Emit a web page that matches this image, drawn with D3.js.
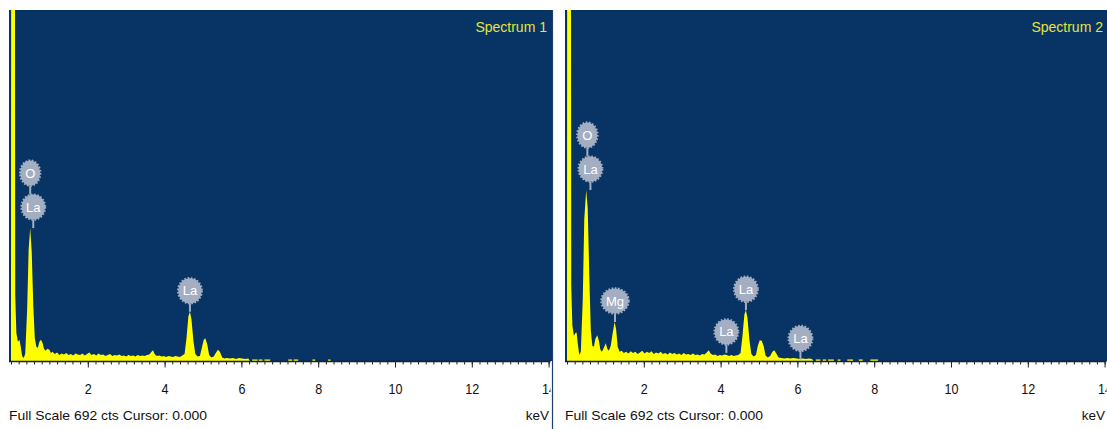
<!DOCTYPE html>
<html>
<head>
<meta charset="utf-8">
<script src="https://cdn.jsdelivr.net/npm/d3@7"></script>
<style>
  html, body { margin: 0; padding: 0; background: #ffffff; }
  svg { display: block; font-family: "Liberation Sans", Arial, sans-serif; }
</style>
</head>
<body>
<svg id="chart" width="1107" height="429"></svg>
<script>
// EDS spectra: [energy keV, counts]
const spectrum1 = [
  [0.00,0],[0.01,2000],[0.09,2000],[0.11,130],[0.14,55],[0.18,38],[0.22,42],[0.25,30],[0.29,10],[0.33,6],
  [0.37,14],[0.42,100],[0.46,220],[0.50,262],[0.54,215],[0.58,110],[0.62,45],[0.66,28],[0.70,26],[0.74,38],
  [0.78,42],[0.82,36],[0.86,24],[0.90,20],[0.95,24],[1.00,22],[1.04,16],[1.08,18],[1.14,14],[1.20,17],
  [1.26,12],[1.32,15],[1.38,13],[1.44,16],[1.50,12],[1.56,14],[1.62,11],[1.68,15],[1.74,13],[1.80,12],
  [1.86,15],[1.92,11],[1.98,14],[2.04,17],[2.10,12],[2.16,14],[2.22,11],[2.28,15],[2.34,12],[2.40,13],
  [2.46,10],[2.52,12],[2.58,14],[2.64,10],[2.70,12],[2.76,11],[2.82,13],[2.88,10],[2.94,11],[3.00,9],
  [3.06,12],[3.12,10],[3.18,11],[3.24,9],[3.30,12],[3.36,10],[3.42,11],[3.48,10],[3.54,12],[3.60,13],
  [3.66,18],[3.70,21],[3.74,14],[3.80,10],[3.86,11],[3.92,9],[3.98,10],[4.04,8],[4.10,10],[4.16,9],
  [4.22,8],[4.28,10],[4.34,9],[4.40,8],[4.46,11],[4.52,14],[4.57,45],[4.62,88],[4.66,97],[4.70,82],
  [4.75,40],[4.80,14],[4.86,9],[4.92,10],[4.97,26],[5.02,42],[5.06,45],[5.11,33],[5.16,12],[5.22,7],
  [5.28,9],[5.34,17],[5.39,22],[5.44,18],[5.50,7],[5.56,5],[5.62,6],[5.70,5],[5.78,6],[5.86,4],
  [5.94,6],[6.02,5],[6.10,4],[6.18,5],[6.22,0]
];
const spectrum2 = [
  [0.00,0],[0.01,2000],[0.09,2000],[0.11,150],[0.14,70],[0.18,50],[0.22,55],[0.25,56],[0.28,35],[0.32,12],
  [0.36,18],[0.41,120],[0.45,280],[0.50,337],[0.54,300],[0.58,170],[0.62,60],[0.66,30],[0.70,28],[0.74,44],
  [0.79,51],[0.83,40],[0.87,22],[0.91,18],[0.96,26],[1.01,35],[1.05,24],[1.09,20],[1.14,30],[1.19,55],
  [1.24,77],[1.28,62],[1.32,28],[1.37,18],[1.42,20],[1.48,16],[1.54,18],[1.60,15],[1.66,19],[1.72,16],
  [1.78,18],[1.84,14],[1.90,17],[1.96,20],[2.02,15],[2.08,18],[2.14,16],[2.20,19],[2.26,14],[2.32,17],
  [2.38,15],[2.44,18],[2.50,14],[2.56,16],[2.62,13],[2.68,17],[2.74,14],[2.80,16],[2.86,13],[2.92,15],
  [2.98,12],[3.04,16],[3.10,13],[3.16,14],[3.22,12],[3.28,15],[3.34,12],[3.40,13],[3.46,11],[3.52,14],
  [3.58,13],[3.64,17],[3.69,21],[3.74,15],[3.80,12],[3.86,13],[3.92,10],[3.98,12],[4.04,11],[4.10,13],
  [4.16,12],[4.22,10],[4.28,12],[4.34,10],[4.40,11],[4.46,12],[4.52,16],[4.57,50],[4.62,92],[4.66,100],
  [4.70,85],[4.75,42],[4.80,14],[4.86,9],[4.92,12],[4.97,30],[5.02,41],[5.07,40],[5.12,30],[5.17,11],
  [5.23,7],[5.29,10],[5.35,18],[5.40,21],[5.45,15],[5.51,7],[5.58,6],[5.66,5],[5.74,6],[5.82,5],
  [5.90,6],[5.98,5],[6.06,4],[6.14,5],[6.22,4],[6.30,5],[6.38,4],[6.42,0]
];

// Sparse high-energy counts: [from keV, to keV, counts]
const tail1 = [[6.28,6.42,3],[6.45,6.55,3],[6.60,6.75,3],[7.22,7.32,3],[7.36,7.48,3],[7.85,7.92,3],[8.26,8.32,3]];
const tail2 = [[6.48,6.60,3],[6.66,6.75,3],[6.80,6.95,3],[7.05,7.12,3],[7.30,7.45,3],[7.60,7.70,3],[7.90,8.10,3]];

// Peak identifications: element, energy (keV), counts at the marker anchor
const elements1 = ["O", "La", "La"];
const energies1 = [0.50, 0.58, 4.66];
const anchors1  = [262, 262, 97];
const elements2 = ["O", "La", "Mg", "La", "La", "La"];
const energies2 = [0.53, 0.61, 1.25, 4.15, 4.66, 6.08];
const anchors2  = [337, 337, 77, 16, 100, 3];

const titles = ["Spectrum 1", "Spectrum 2"];
const fullScale = 692;
const cursor = "0.000";
const keVMax = 14;
const tickLabels = [2, 4, 6, 8, 10, 12, 14];

const panels = [
  { title: titles[0], data: spectrum1, tail: tail1, el: elements1, en: energies1, an: anchors1, left: 9 },
  { title: titles[1], data: spectrum2, tail: tail2, el: elements2, en: energies2, an: anchors2, left: 565 }
];

const svg = d3.select("#chart");
const W = 542, plotTop = 10, plotH = 351;
const blue = "#083465", yellow = "#ffff00", bubble = "#a3aec2";
const ink = "#111111";

panels.forEach((p, i) => {
  const g = svg.append("g");
  const x = d3.scaleLinear().domain([0, keVMax]).range([p.left + 2, p.left + 2 + 537.6]);
  const y = d3.scaleLinear().domain([0, fullScale]).range([plotTop + plotH, plotTop]);

  const clipId = "plotclip" + i, panelClip = "panelclip" + i;
  const defs = svg.append("defs");
  defs.append("clipPath").attr("id", clipId)
    .append("rect").attr("x", p.left).attr("y", plotTop).attr("width", W + 1).attr("height", plotH);
  defs.append("clipPath").attr("id", panelClip)
    .append("rect").attr("x", p.left).attr("y", 0).attr("width", W - 0.5).attr("height", 429);

  g.append("rect").attr("x", p.left).attr("y", plotTop).attr("width", W + 1).attr("height", plotH).attr("fill", blue);

  const plot = g.append("g").attr("clip-path", `url(#${clipId})`);
  plot.append("path")
    .datum(p.data)
    .attr("fill", yellow)
    .attr("d", d3.area().x(d => x(d[0])).y0(y(0)).y1(d => y(d[1])));
  plot.selectAll("rect.tail").data(p.tail).join("rect")
    .attr("class", "tail")
    .attr("x", d => x(d[0])).attr("width", d => x(d[1]) - x(d[0]))
    .attr("y", d => y(d[2])).attr("height", d => y(0) - y(d[2]))
    .attr("fill", yellow);

  // axis: minor ticks every 0.2 keV, major every 2 keV
  const axG = g.append("g").attr("clip-path", `url(#${panelClip})`);
  const minor = d3.range(0, keVMax + 0.001, 0.2).map(v => +v.toFixed(1));
  axG.append("g").attr("transform", `translate(0,${plotTop + plotH})`)
    .call(d3.axisBottom(x).tickValues(minor).tickSize(3.5).tickSizeOuter(0).tickFormat(""))
    .call(a => a.select(".domain").attr("stroke", "#1a1f2e").attr("stroke-width", 1.6)
                 .attr("d", `M${p.left},0.5H${p.left + W + 1}`))
    .call(a => a.selectAll(".tick line").attr("stroke", "#222"));
  axG.append("g").attr("transform", `translate(0,${plotTop + plotH})`)
    .call(d3.axisBottom(x).tickValues(tickLabels).tickSize(6.5).tickSizeOuter(0).tickPadding(15.5))
    .call(a => a.select(".domain").remove())
    .call(a => a.selectAll(".tick line").attr("stroke", "#222"))
    .call(a => a.selectAll(".tick text").attr("fill", ink).attr("font-size", 15)
                 .attr("font-family", "'Liberation Sans', Arial, sans-serif")
                 .attr("textLength", d => 7 * String(d).length)
                 .attr("lengthAdjust", "spacingAndGlyphs"));

  g.append("text").attr("x", p.left).attr("y", 419.5)
    .attr("font-size", 13.5).attr("fill", ink)
    .attr("textLength", 198).attr("lengthAdjust", "spacingAndGlyphs")
    .text(`Full Scale ${fullScale} cts Cursor: ${cursor}`);
  g.append("text").attr("x", p.left + W - 2).attr("y", 419.5)
    .attr("font-size", 13.5).attr("fill", ink).attr("text-anchor", "end")
    .text("keV");

  g.append("text").attr("x", p.left + W - 4).attr("y", 32)
    .attr("font-size", 14).attr("fill", "#e4e43a").attr("text-anchor", "end")
    .text(p.title);

  // peak markers: stacked bubbles for lines sharing one peak
  const markers = p.el.map((name, k) => {
    let level = 0;
    for (let j = k + 1; j < p.el.length; j++) {
      if (p.an[j] === p.an[k] && Math.abs(p.en[j] - p.en[k]) < 0.2) level++;
    }
    return { name, keV: p.en[k], cts: p.an[k], level };
  });
  const mg = g.append("g");
  markers.forEach(m => {
    const cx = x(m.keV);
    const ay = y(m.cts);
    const cy = ay - 21 - m.level * 34;
    const label = mg.append("text").attr("x", cx).attr("y", cy + 4.6)
      .attr("text-anchor", "middle").attr("font-size", 13).attr("fill", "#ffffff")
      .text(m.name);
    const tw = label.node().getComputedTextLength();
    const rx = Math.max(10, tw / 2 + 4.5), ry = 12.5;
    const y1 = cy + ry, y2 = m.level === 0 ? ay : cy + 34 - ry;
    mg.insert("line", "text").attr("x1", cx).attr("x2", cx).attr("y1", y1).attr("y2", y2)
      .attr("stroke", bubble).attr("stroke-width", 2);
    mg.insert("ellipse", "text").attr("cx", cx).attr("cy", cy).attr("rx", rx).attr("ry", ry)
      .attr("fill", bubble).attr("stroke", bubble).attr("stroke-width", 2.4)
      .attr("stroke-dasharray", "1.6 1.6");
  });
});

// divider on the right edge of the first panel
svg.append("line").attr("x1", 552.5).attr("x2", 552.5).attr("y1", plotTop).attr("y2", 429)
  .attr("stroke", "#1d3f70").attr("stroke-width", 1.2);
</script>
</body>
</html>
